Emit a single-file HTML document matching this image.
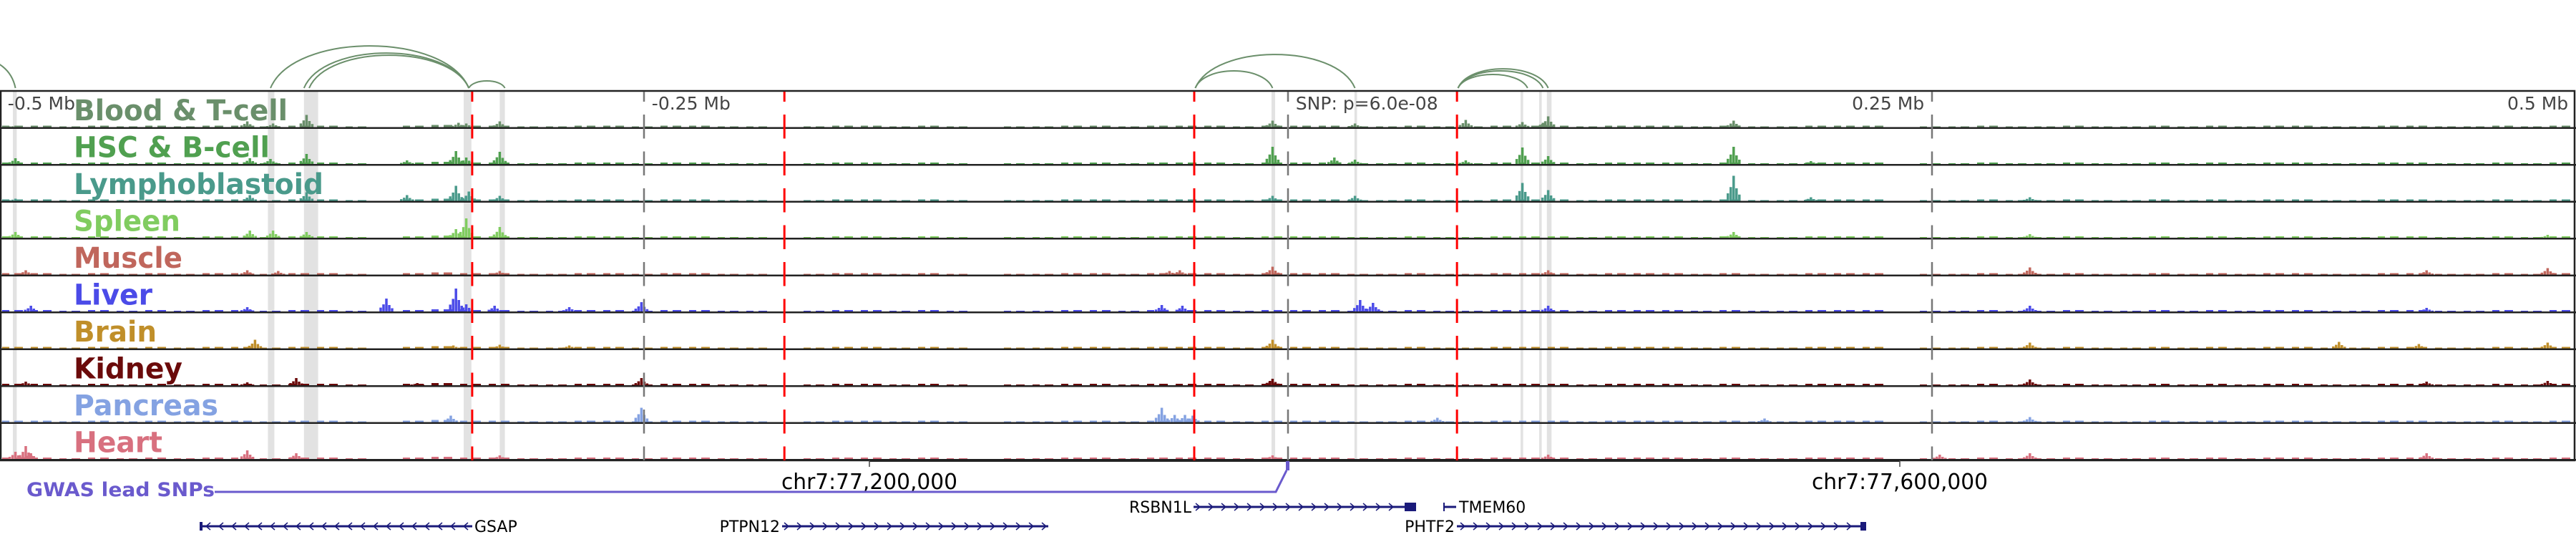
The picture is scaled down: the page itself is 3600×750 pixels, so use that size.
<!DOCTYPE html>
<html><head><meta charset="utf-8"><title>Genome browser tracks</title>
<style>
html,body{margin:0;padding:0;background:#fff;}
svg{display:block;font-family:"DejaVu Sans","Liberation Sans",sans-serif;}
</style></head>
<body>
<svg id="chart" width="3600" height="750" viewBox="0 0 3600 750" xmlns="http://www.w3.org/2000/svg">
<g id="bands"></g>
<g id="arcs"></g>
<g id="tracks"></g>
<g id="vlines"></g>
<g id="labels"></g>
<g id="bottom"></g>
</svg>
<script>
const NS = "http://www.w3.org/2000/svg";
// ---- data ----
const domainKb = [-500, 500];
const trackNames = ["Blood & T-cell","HSC & B-cell","Lymphoblastoid","Spleen","Muscle","Liver","Brain","Kidney","Pancreas","Heart"];
const trackColors = ["#6a8f6b","#50a050","#4a9a8b","#80cc60","#c0665c","#4b4be8","#c08f2a","#6b0a0a","#84a2e2","#d8707f"];
const labelWidths = [299,274,349,149,152,110,116,152,202,124];
// low-level coverage per 40px bin (90 bins), px
const noiseBins = [2,2,1,2,1,2,1,2,2,1,2,2,1,0,2,3,2,2,1,1,2,2,1,2,2,1,1,0,1,2,2,1,2,1,0,1,1,2,2,1,2,2,2,1,2,2,2,1,1,2,1,1,2,2,2,1,2,2,2,1,2,1,1,2,2,2,0,1,1,2,1,1,2,1,1,2,1,2,1,2,2,1,1,2,2,1,1,2,1,2];
// peaks per track: [kb, height px]
const peaksBlood = [[-494,2],[-404,8],[-394,5],[-381,17],[-322,6],[-319,5],[-306,8],[-6,9],[26,5],[69,10],[91,7],[99,6],[101,15],[173,9]];
const peaksHSC = [[-494,8],[-403,8],[-395,7],[-381,14],[-342,5],[-323,18],[-319,9],[-306,17],[-6,24],[18,9],[26,6],[69,5],[91,23],[101,11],[173,24],[203,4]];
const peaksLympho = [[-494,3],[-403,8],[-381,12],[-342,8],[-323,21],[-318,13],[-306,7],[-6,7],[26,7],[91,25],[101,15],[173,35],[203,5],[288,5]];
const peaksSpleen = [[-494,8],[-403,10],[-394,10],[-381,8],[-323,12],[-319,27],[-306,15],[173,8],[288,5],[489,4]];
const peaksMuscle = [[-490,6],[-404,6],[-392,5],[-306,5],[-46,5],[-42,6],[-6,11],[101,6],[288,10],[442,6],[489,9]];
const peaksLiver = [[-488,8],[-404,6],[-350,18],[-323,32],[-319,10],[-308,8],[-279,6],[-251,13],[-49,9],[-41,8],[28,16],[33,12],[101,8],[288,8],[442,5]];
const peaksBrain = [[-401,12],[-324,4],[-306,5],[-279,4],[-6,12],[288,8],[408,9],[439,6],[489,8]];
const peaksKidney = [[-490,5],[-404,4],[-385,10],[-338,3],[-251,10],[-7,6],[-6,9],[288,8],[442,5],[489,6]];
const peaksPancreas = [[-325,9],[-251,20],[-49,20],[-44,10],[-40,10],[-37,9],[58,6],[185,5],[288,7]];
const peaksHeart = [[-494,10],[-490,18],[-488,8],[-404,12],[-385,8],[-306,5],[-6,5],[101,6],[253,6],[288,8],[442,8]];
const trackPeaks = [peaksBlood,peaksHSC,peaksLympho,peaksSpleen,peaksMuscle,peaksLiver,peaksBrain,peaksKidney,peaksPancreas,peaksHeart];
// arcs: start kb, end kb, height px
const arcStarts = [-520,-395,-382,-380,-318,-36,-36,66,66,66];
const arcEnds = [-494,-318,-318,-318,-304,-6,26,93,99,101];
const arcHeights = [40,59,49,46,10,24,47,19,24,27];
// highlight bands kb ranges
const bandStarts = [-495,-396,-382,-320,-306,-6.4,25.8,90.3,97.5,100.5];
const bandEnds = [-493.5,-393.5,-376.5,-317,-304,-5,26.8,91.3,98.5,102.3];
const redLinesKb = [-316.7,-195.5,-36.4,65.6];
const greyLinesKb = [-250,0,250];
const scaleLabels = ["-0.5 Mb","-0.25 Mb","SNP: p=6.0e-08","0.25 Mb","0.5 Mb"];
const scaleLabelKb = [-497,-247,3,247,497];

// ---- scales ----
const X0 = 0, X1 = 3600;
function xs(kb){ return X0 + (kb - domainKb[0]) / (domainKb[1]-domainKb[0]) * (X1-X0); }
const TOP = 128, TH = 51.5, BOTTOM = TOP + TH*10;
function trackBase(i){ return TOP + TH*(i+1) - 2; }

function mk(tag, attrs, parent){
  const e = document.createElementNS(NS, tag);
  for (const k in attrs) e.setAttribute(k, attrs[k]);
  parent.appendChild(e); return e;
}
const gBands = document.getElementById('bands');
const gArcs = document.getElementById('arcs');
const gTracks = document.getElementById('tracks');
const gV = document.getElementById('vlines');
const gL = document.getElementById('labels');

// bands
bandStarts.forEach((s,i)=>{
  const x = xs(s), w = Math.max(2, xs(bandEnds[i]) - x);
  const r = mk('rect',{x:x,y:TOP,width:w,height:BOTTOM-TOP,fill:'#e2e2e2'},gBands);
  
  
});

// arcs (parabolic: quadratic bezier with control at 2h)
arcStarts.forEach((s,i)=>{
  const a = xs(s), b = xs(arcEnds[i]), base = 123, h = arcHeights[i];
  const m = (a+b)/2;
  const p = mk('path',{d:`M${a},${base} C${a+(b-a)*0.12},${base-h*1.33} ${b-(b-a)*0.12},${base-h*1.33} ${b},${base}`,fill:'none',stroke:'#6b8f6b','stroke-width':2},gArcs);
  
  
});

// tracks
trackNames.forEach((name,i)=>{
  const g = mk('g',{},gTracks);
  
  
  const base = trackBase(i), col = trackColors[i];
  noiseBins.forEach((v,j)=>{
    if (v<=0) return;
    const kb = domainKb[0] + j*(domainKb[1]-domainKb[0])/noiseBins.length;
    const x = xs(kb);
    [[3,10],[20,12]].forEach(([dx,w])=>{
      const r = mk('rect',{x:x+dx,y:base-v,width:w,height:v,fill:col},g);
      
      
    });
  });
  trackPeaks[i].forEach(([kb,h])=>{
    const x = xs(kb);
    [[-8,0.3],[-4,0.55],[0,1],[4,0.5],[8,0.25]].forEach(([dx,f])=>{
      const hh = Math.max(1,h*f);
      const r = mk('rect',{x:x+dx-1.75,y:base-hh,width:3.5,height:hh,fill:col},g);
      
      
    });
  });
  const ln = mk('rect',{x:0,y:base,width:3600,height:2.5,fill:'#222'},g);
  
  
  const t = mk('text',{x:103,y:TOP+TH*i+40,'font-size':40,'font-weight':'bold',fill:col,textLength:labelWidths[i],lengthAdjust:'spacingAndGlyphs'},gL);
  t.textContent = name;
  
  
});
// frame
const fr = mk('rect',{x:1,y:TOP-1,width:3597,height:BOTTOM-TOP+1,fill:'none',stroke:'#222','stroke-width':2.5},gTracks);



// marker lines
redLinesKb.forEach(kb=>{
  const l = mk('line',{x1:xs(kb),x2:xs(kb),y1:TOP,y2:BOTTOM,stroke:'#ff0000','stroke-width':3,'stroke-dasharray':'33.5 18','stroke-dashoffset':19.5},gV);
  
  
});
greyLinesKb.forEach(kb=>{
  const l = mk('line',{x1:xs(kb),x2:xs(kb),y1:TOP,y2:BOTTOM,stroke:'#777','stroke-width':2.5,'stroke-dasharray':'33.5 18','stroke-dashoffset':19.5},gV);
  
  
});
scaleLabels.forEach((s,i)=>{
  const right = scaleLabelKb[i] > 100;
  const t = mk('text',{x:xs(scaleLabelKb[i]),y:153,'font-size':25,fill:'#444','text-anchor':right?'end':'start'},gL);
  t.textContent = s;
  
  
});
</script>
<svg width="3600" height="750" viewBox="0 0 3600 750" style="position:absolute;left:0;top:0;font-family:'DejaVu Sans','Liberation Sans',sans-serif" xmlns="http://www.w3.org/2000/svg">
  <g>
    <line x1="1215" y1="644" x2="2655" y2="644" stroke="#222" stroke-width="2"/>
    <line x1="1215" y1="643" x2="1215" y2="652" stroke="#444" stroke-width="1.5"/>
    <line x1="2655" y1="643" x2="2655" y2="652" stroke="#444" stroke-width="1.5"/>
    <text x="1092" y="683" font-size="30" fill="#000" textLength="246" lengthAdjust="spacingAndGlyphs">chr7:77,200,000</text>
    <text x="2532" y="683" font-size="30" fill="#000" textLength="246" lengthAdjust="spacingAndGlyphs">chr7:77,600,000</text>
  </g>
  <g>
    <text x="37" y="693" font-size="27" font-weight="bold" fill="#6a5acd" textLength="263" lengthAdjust="spacingAndGlyphs">GWAS lead SNPs</text>
    <polyline points="300,687 1783,687 1798,657" fill="none" stroke="#6a5acd" stroke-width="3"/>
    <rect x="1797" y="644" width="5" height="13" fill="#6a5acd"/>
  </g>
  <g font-size="22" fill="#000">
    <g>
      <line x1="280" y1="735" x2="660" y2="735" stroke="#1a1a7a" stroke-width="3"/>
      <rect x="279" y="729" width="4" height="12" fill="#1a1a7a"/>
      <text x="663" y="743" stroke="none">GSAP</text>
    </g>
    <g>
      <line x1="1093" y1="735" x2="1465" y2="735" stroke="#1a1a7a" stroke-width="3"/>
      <text x="1090" y="743" text-anchor="end" stroke="none">PTPN12</text>
    </g>
    <g>
      <line x1="1668" y1="708" x2="1965" y2="708" stroke="#1a1a7a" stroke-width="3"/>
      <rect x="1963" y="702" width="16" height="12" fill="#1a1a7a"/>
      <text x="1665" y="716" text-anchor="end" stroke="none">RSBN1L</text>
    </g>
    <g>
      <line x1="2018" y1="708" x2="2035" y2="708" stroke="#1a1a7a" stroke-width="3"/>
      <rect x="2017" y="702" width="2" height="12" fill="#1a1a7a"/>
      <text x="2039" y="716" stroke="none">TMEM60</text>
    </g>
    <g>
      <line x1="2036" y1="735" x2="2604" y2="735" stroke="#1a1a7a" stroke-width="3"/>
      <rect x="2600" y="729" width="8" height="12" fill="#1a1a7a"/>
      <text x="2033" y="743" text-anchor="end" stroke="none">PHTF2</text>
    </g>
    <g id="chev" fill="none" stroke="#1a1a7a" stroke-width="1.5"></g>
  </g>
</svg>
<script>
(function(){
  const g = document.getElementById('chev');
  const genes = [[290,655,735,-1],[1100,1460,735,1],[1675,1955,708,1],[2045,2595,735,1]];
  genes.forEach(([a,b,y,dir])=>{
    for(let x=a; x<=b; x+=18){
      const p = document.createElementNS("http://www.w3.org/2000/svg",'path');
      const d = dir>0 ? `M${x-4},${y-5} L${x+2},${y} L${x-4},${y+5}` : `M${x+4},${y-5} L${x-2},${y} L${x+4},${y+5}`;
      p.setAttribute('d', d);
      
      
      g.appendChild(p);
    }
  });
})();
</script>
</body></html>
